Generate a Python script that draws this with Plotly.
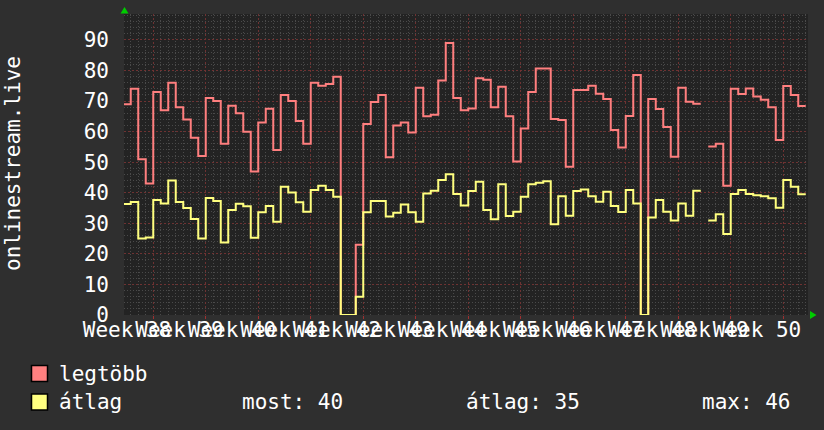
import plotly.graph_objects as go

# ---------------- data (daily values, day 0 = first day shown) ----------------
weeks = [38, 39, 40, 41, 42, 43, 44, 45, 46, 47, 48, 49, 50]
legtobb = [69, 74, 51, 43, 73, 67, 76, 68, 64, 58, 52, 71, 70, 56, 68.5, 66, 60, 47, 63, 67.5,
           54, 72, 70, 63.5, 56, 76, 75, 75.6, 78, 0, 0, 23, 62.5, 69.7, 72, 51.6, 62, 63, 59.7, 74.4,
           65, 65.5, 76.7, 89, 71, 67, 67.6, 77.5, 77, 68, 74.7, 65, 50.2, 61, 73, 80.7, 80.7, 64.1, 63.8, 48.5,
           73.6, 73.6, 75, 72.4, 70.7, 60.5, 54.8, 65.1, 78.5, 0, 70.7, 67.4, 61.5, 51.8, 74.4, 69.8, 69.1, None, 55.1, 56,
           42.3, 74, 72.3, 74.1, 71.5, 70.4, 68, 57.3, 74.9, 72, 68.4]
atlag = [36.3, 37, 25, 25.4, 37.6, 36.5, 44, 37, 35, 31.4, 25, 38.3, 37.3, 23.7, 34.4, 36.4, 35.6, 25.3, 33.6, 35.7,
         30.5, 42, 40.1, 36.9, 33.8, 40.9, 42.3, 40.9, 38.7, 0, 0, 6, 33.6, 37.3, 37.3, 32.2, 33.5, 36.2, 33.6, 30.5,
         39.8, 40.7, 44.2, 46.1, 39.6, 35.8, 40.6, 43.6, 34.4, 31.3, 42.8, 32.4, 33.8, 38.7, 42.8, 43.3, 43.8, 29.7, 38.9, 32.5,
         40.6, 41.1, 38.9, 37.1, 40.3, 35.7, 33.7, 40.9, 36.5, 0, 31.9, 37.6, 33.8, 30.9, 36.5, 32.5, 40.7, None, 30.9, 33,
         26.5, 39.6, 40.9, 39.6, 39.2, 38.9, 38.2, 35.1, 44.2, 42, 39.5]
series_names = ["legtöbb", "átlag"]
series_colors = ["#ff7f7f", "#ffff7f"]
stat_labels = ["most", "átlag", "max"]
stat_values = [40, 35, 46]
y_title = "onlinestream.live"

# ---------------- helpers ----------------
W, H = 824, 430
L, R, T, B = 124, 808, 14, 315
X0, X1 = 0.1, 91.3
FIRST_WEEK_START = 4
FONT = "DejaVu Sans Mono"


def steps(vals):
    xs, ys = [], []
    for i, v in enumerate(vals):
        if v is None:
            xs.append(None); ys.append(None)
            continue
        xs += [i, i + 1]
        ys += [v, v]
    return xs, ys


def px(x):
    return (x - L) / (R - L)


def py(y):
    return (B - y) / (B - T)


fig = go.Figure()
for name, vals, col in zip(series_names, [legtobb, atlag], series_colors):
    xs, ys = steps(vals)
    fig.add_trace(go.Scatter(x=xs, y=ys, mode="lines", name=name,
                             line=dict(color=col, width=2), connectgaps=False,
                             hoverinfo="skip", showlegend=False))

# dummy trace so the grid axis gets drawn
fig.add_trace(go.Scatter(x=[X0], y=[0], xaxis="x2", mode="markers",
                         marker=dict(opacity=0), hoverinfo="skip", showlegend=False))

label_pos = [FIRST_WEEK_START - 3.5 + 7 * i for i in range(len(weeks))]
label_txt = [f"Week {w}" for w in weeks]

fig.update_layout(
    width=W, height=H,
    margin=dict(l=L, r=W - R, t=T, b=H - B),
    paper_bgcolor="#2f2f2f", plot_bgcolor="#232323",
    font=dict(family=FONT, color="#ffffff", size=21),
    xaxis=dict(range=[X0, X1], tickmode="array", tickvals=label_pos, ticktext=label_txt,
               tickangle=0, showgrid=False, zeroline=False, showline=False, ticks="",
               tickfont=dict(family=FONT, size=21, color="#ffffff"), fixedrange=True),
    xaxis2=dict(range=[X0, X1], overlaying="x", side="bottom", showticklabels=False,
                tick0=FIRST_WEEK_START, dtick=7, showgrid=True, gridcolor="#6e3232",
                griddash="2px,2px", gridwidth=1, zeroline=False, showline=False,
                ticks="outside", ticklen=3, tickcolor="#a03030",
                minor=dict(tick0=0, dtick=1, showgrid=True, gridcolor="#4a4a4a",
                           griddash="1px,2px", gridwidth=1)),
    yaxis=dict(range=[0, 98.5], tick0=0, dtick=10, showgrid=True, gridcolor="#6e3232",
               griddash="2px,2px", gridwidth=1, zeroline=False, showline=False,
               ticks="", ticklabelstandoff=14,
               tickfont=dict(family=FONT, size=21, color="#ffffff"),
               minor=dict(dtick=2, showgrid=True, gridcolor="#4a4a4a",
                          griddash="1px,2px", gridwidth=1)),
)

shapes = []
# green arrows at axis ends
shapes.append(dict(type="path", xref="paper", yref="paper",
                   path=f"M {px(120.5)} {py(13.5)} L {px(128.5)} {py(13.5)} L {px(124.5)} {py(7)} Z",
                   fillcolor="#00cc00", line=dict(width=0)))
shapes.append(dict(type="path", xref="paper", yref="paper",
                   path=f"M {px(810)} {py(311)} L {px(810)} {py(319)} L {px(816.5)} {py(315)} Z",
                   fillcolor="#00cc00", line=dict(width=0)))
# legend boxes
box_y = [(365.5, 381.5), (394, 410)]
for (y0, y1), col in zip(box_y, series_colors):
    shapes.append(dict(type="rect", xref="paper", yref="paper",
                       x0=px(31.5), x1=px(47.5), y0=py(y1), y1=py(y0),
                       fillcolor=col.replace("7f", "80"), line=dict(color="#000000", width=1.5)))
fig.update_layout(shapes=shapes)

ann = []
ann.append(dict(text=y_title, textangle=-90, xref="paper", yref="paper",
                x=px(13), y=py(164), xanchor="center", yanchor="middle",
                showarrow=False, font=dict(family=FONT, size=21, color="#ffffff")))
leg_y = [373.5, 402]
for name, yy in zip(series_names, leg_y):
    ann.append(dict(text=name, xref="paper", yref="paper", x=px(57), y=py(yy),
                    xanchor="left", yanchor="middle", showarrow=False,
                    font=dict(family=FONT, size=21, color="#ffffff")))
stat_x = [240, 464, 700]
for lab, val, xx in zip(stat_labels, stat_values, stat_x):
    ann.append(dict(text=f"{lab}: {val}", xref="paper", yref="paper", x=px(xx), y=py(402),
                    xanchor="left", yanchor="middle", showarrow=False,
                    font=dict(family=FONT, size=21, color="#ffffff")))
fig.update_layout(annotations=ann)

fig.write_html("out.html", config={"displayModeBar": False, "staticPlot": True},
               post_script="document.body.style.margin='0px';document.body.style.overflow='hidden';")
